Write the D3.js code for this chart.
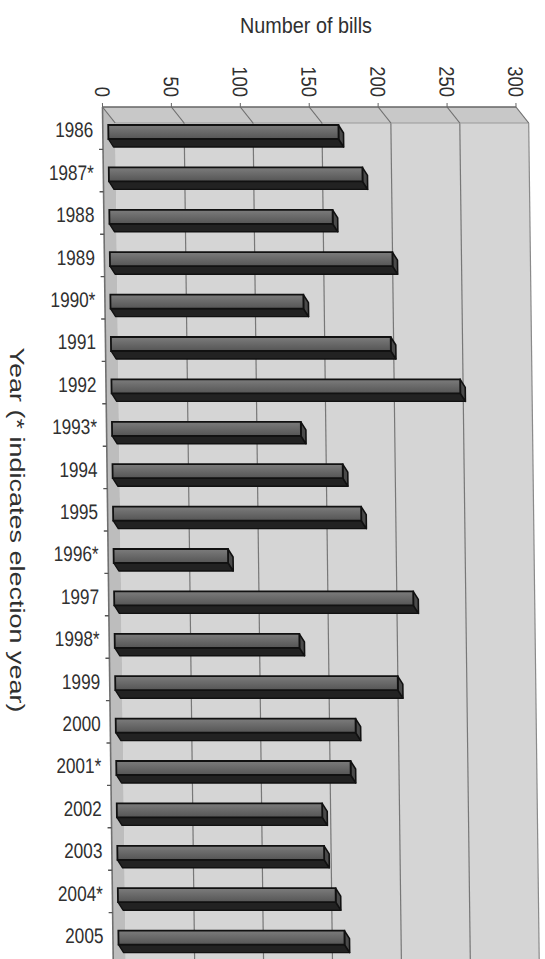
<!DOCTYPE html>
<html>
<head>
<meta charset="utf-8">
<script src="https://cdn.jsdelivr.net/npm/d3@7"></script>
<style>
  body { margin: 0; background: #fff; }
  text { font-family: "Liberation Sans", Arial, sans-serif; fill: #303030; }
</style>
</head>
<body>
<div id="app"></div>
<script>
const years = ["1986", "1987*", "1988", "1989", "1990*", "1991", "1992", "1993*", "1994", "1995",
  "1996*", "1997", "1998*", "1999", "2000", "2001*", "2002", "2003", "2004*", "2005"];
const bills = [167, 184, 162, 205, 140, 203, 253, 137, 167, 180,
  83, 217, 134, 205, 174, 170, 149, 150, 158, 164];
const xTicks = [0, 50, 100, 150, 200, 250, 300];
const gridTicks = [50, 100, 150, 200, 250];

const width = 545,
  height = 959;
const origin = { x: 102.5, y: 107 };
const depth = { dx: 12.5, dy: 16 };   // wall depth (3D offset)
const barDepth = { dx: 5, dy: 8 };
const skew = 0.72;                     // the scan is slightly slanted

const svg = d3.select("#app")
  .append("svg")
  .attr("width", width)
  .attr("height", height);

const defs = svg.append("defs");
const grad = defs.append("linearGradient")
  .attr("id", "barFace")
  .attr("x1", "0%").attr("y1", "0%")
  .attr("x2", "0%").attr("y2", "100%");
grad.append("stop").attr("offset", "0%").style("stop-color", "#7c7c7c");
grad.append("stop").attr("offset", "100%").style("stop-color", "#555");

const g = svg.append("g")
  .attr("transform", `translate(${origin.x},${origin.y}) skewX(${skew})`);

const x = d3.scaleLinear().domain([0, 300]).range([0, 413.5]);
const y = d3.scaleBand().domain(years).range([0, 848]);

const wallBottom = height - origin.y + 10;

// back wall
g.append("rect")
  .attr("x", x(0) + depth.dx)
  .attr("y", depth.dy)
  .attr("width", x(300) - x(0))
  .attr("height", wallBottom - depth.dy)
  .style("fill", "#d5d5d5");

// top side wall
g.append("path")
  .attr("d", `M${x(0)},0 L${x(300)},0 L${x(300) + depth.dx},${depth.dy} L${x(0) + depth.dx},${depth.dy} Z`)
  .style("fill", "#c8c8c8");

// floor strip on the left
g.append("path")
  .attr("d", `M${x(0)},0 L${x(0) + depth.dx},${depth.dy} L${x(0) + depth.dx},${wallBottom} L${x(0)},${wallBottom} Z`)
  .style("fill", "#bdbdbd");

// gridlines on back wall
g.selectAll(".grid")
  .data(gridTicks)
  .join("line")
  .attr("class", "grid")
  .attr("x1", d => x(d) + depth.dx)
  .attr("x2", d => x(d) + depth.dx)
  .attr("y1", depth.dy)
  .attr("y2", wallBottom)
  .style("stroke", "#777")
  .style("stroke-width", 1.2);

// right edge of wall
g.append("line")
  .attr("x1", x(300) + depth.dx).attr("x2", x(300) + depth.dx)
  .attr("y1", depth.dy).attr("y2", wallBottom)
  .style("stroke", "#8a8a8a")
  .style("stroke-width", 1.2);

// top edge of back wall
g.append("line")
  .attr("x1", x(0) + depth.dx).attr("x2", x(300) + depth.dx)
  .attr("y1", depth.dy).attr("y2", depth.dy)
  .style("stroke", "#9a9a9a")
  .style("stroke-width", 1);

// diagonal gridlines on the side wall
g.selectAll(".diag")
  .data(xTicks)
  .join("line")
  .attr("class", "diag")
  .attr("x1", d => x(d))
  .attr("y1", 0)
  .attr("x2", d => x(d) + depth.dx)
  .attr("y2", depth.dy)
  .style("stroke", "#6e6e6e")
  .style("stroke-width", 1.2);

// value axis line + ticks
g.append("line")
  .attr("x1", x(0)).attr("x2", x(300))
  .attr("y1", 0).attr("y2", 0)
  .style("stroke", "#666")
  .style("stroke-width", 1.6);

g.selectAll(".xtick")
  .data(xTicks)
  .join("line")
  .attr("class", "xtick")
  .attr("x1", d => x(d)).attr("x2", d => x(d))
  .attr("y1", 0).attr("y2", -4)
  .style("stroke", "#666");

// category axis line
g.append("line")
  .attr("x1", x(0)).attr("x2", x(0))
  .attr("y1", 0).attr("y2", wallBottom)
  .style("stroke", "#707070")
  .style("stroke-width", 1.6);

g.selectAll(".ytick")
  .data(years.slice(1))
  .join("line")
  .attr("class", "ytick")
  .attr("x1", x(0) - 4).attr("x2", x(0))
  .attr("y1", d => y(d)).attr("y2", d => y(d))
  .style("stroke", "#555")
  .style("stroke-width", 1.4);

// bars
const barTop = 18, barH = 14, x0 = 5.5;
const bars = g.selectAll(".bar")
  .data(years.map((yr, i) => ({ year: yr, value: bills[i] })))
  .join("g")
  .attr("class", "bar")
  .attr("transform", d => `translate(0,${y(d.year) + barTop})`);

// bottom (side) face
bars.append("path")
  .attr("d", d => {
    const a = x(0) + x0, b = x(d.value) + x0;
    return `M${a},${barH} L${b},${barH} L${b + barDepth.dx},${barH + barDepth.dy} L${a + barDepth.dx},${barH + barDepth.dy} Z`;
  })
  .style("fill", "#222")
  .style("stroke", "#111")
  .style("stroke-width", 1.4)
  .style("stroke-linejoin", "round");

// end cap
bars.append("path")
  .attr("d", d => {
    const b = x(d.value) + x0;
    return `M${b},0 L${b + barDepth.dx},${barDepth.dy} L${b + barDepth.dx},${barH + barDepth.dy} L${b},${barH} Z`;
  })
  .style("fill", "#4a4a4a")
  .style("stroke", "#111")
  .style("stroke-width", 1.6)
  .style("stroke-linejoin", "round");

// front face
bars.append("rect")
  .attr("x", x(0) + x0)
  .attr("y", 0)
  .attr("width", d => x(d.value) - x(0))
  .attr("height", barH)
  .style("fill", "url(#barFace)")
  .style("stroke", "#111")
  .style("stroke-width", 1.8);

// year labels
g.selectAll(".ylabel")
  .data(years)
  .join("text")
  .attr("class", "ylabel")
  .attr("transform", d => `translate(${x(0) - 9.5},${y(d) + 23}) scale(0.86,1.05)`)
  .attr("dy", "0.35em")
  .attr("text-anchor", "end")
  .style("font-size", "20px")
  .text(d => d);

// value tick labels, rotated
g.selectAll(".xlabel")
  .data(xTicks)
  .join("text")
  .attr("class", "xlabel")
  .attr("transform", d => `translate(${x(d)},-10) rotate(90) scale(0.88,1)`)
  .attr("dy", "0.35em")
  .attr("text-anchor", "end")
  .style("font-size", "21px")
  .text(d => d);

// axis titles
svg.append("text")
  .attr("x", 306)
  .attr("y", 33)
  .attr("text-anchor", "middle")
  .attr("textLength", 132)
  .attr("lengthAdjust", "spacingAndGlyphs")
  .style("font-size", "22px")
  .text("Number of bills");

svg.append("text")
  .attr("transform", "translate(17,530) rotate(90)")
  .attr("text-anchor", "middle")
  .attr("dy", "0.35em")
  .attr("textLength", 365)
  .attr("lengthAdjust", "spacingAndGlyphs")
  .style("font-size", "21px")
  .text("Year (* indicates election year)");
</script>
</body>
</html>
